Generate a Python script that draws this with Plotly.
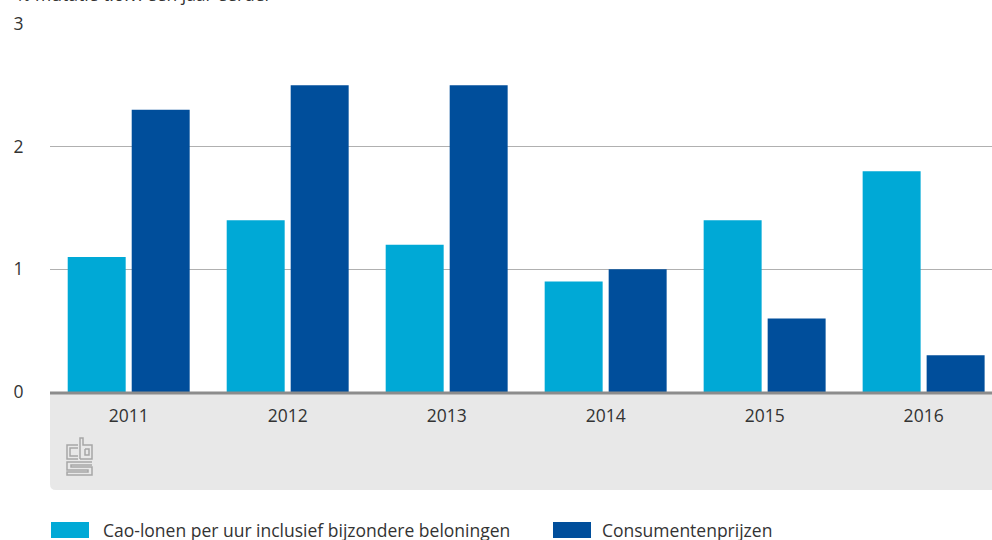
import plotly.graph_objects as go

years = ["2011", "2012", "2013", "2014", "2015", "2016"]
cao_lonen = [1.1, 1.4, 1.2, 0.9, 1.4, 1.8]
consumentenprijzen = [2.3, 2.5, 2.5, 1.0, 0.6, 0.3]
series_names = ["Cao-lonen per uur inclusief bijzondere beloningen", "Consumentenprijzen"]
y_ticks = [0, 1, 2, 3]
y_title = "% mutatie t.o.v. een jaar eerder"

LIGHT = "#00A9D6"
DARK = "#004E9B"
FONT = "Open Sans"

W, H = 992, 540
ML, MR, MT, MB = 50, 0, 24, 148
PH = H - MT - MB


def py(p):
    """pixel y (from top) -> paper y"""
    return (H - MB - p) / PH


def px(p):
    return (p - ML) / (W - ML - MR)


fig = go.Figure()
fig.add_trace(go.Bar(x=years, y=cao_lonen, name=series_names[0], marker_color=LIGHT,
                     marker_line_width=0, showlegend=False))
fig.add_trace(go.Bar(x=years, y=consumentenprijzen, name=series_names[1], marker_color=DARK,
                     marker_line_width=0, showlegend=False))

shapes = []
# grey footer box with rounded bottom-left corner
x0, x1 = px(50), px(992)
y0, y1 = py(392), py(490)
r = 6
shapes.append(dict(type="path", xref="paper", yref="paper",
                   path=(f"M {x0} {y0} L {x1} {y0} L {x1} {y1} L {px(50 + r)} {y1} "
                         f"Q {x0} {y1} {x0} {py(490 - r)} Z"),
                   fillcolor="#E8E8E8", line=dict(width=0), layer="below"))
# baseline
shapes.append(dict(type="line", xref="paper", yref="paper", x0=0, x1=1, y0=py(393), y1=py(393),
                   line=dict(color="#8C8C8C", width=3)))

# cbs logo (approximate outline)
logo_col = "#A6A6A6"
def lp(points):
    s = "M " + " L ".join(f"{px(a)} {py(b)}" for a, b in points)
    return dict(type="path", xref="paper", yref="paper", path=s,
                line=dict(color=logo_col, width=1.5), fillcolor="rgba(0,0,0,0)")
# c
shapes.append(lp([(78, 445), (67, 445), (67, 459), (78, 459)]))
shapes.append(lp([(78, 448), (70, 448), (70, 456), (78, 456)]))
# b
shapes.append(lp([(80, 459), (80, 438), (83, 438), (83, 445), (92, 445), (92, 459), (80, 459)]))
shapes.append(lp([(85, 449), (89, 449), (89, 455), (85, 455), (85, 449)]))
# s
shapes.append(lp([(92, 462), (67, 462), (67, 470), (88, 470), (88, 472), (67, 472), (67, 475), (92, 475),
                  (92, 467), (71, 467), (71, 465), (92, 465)]))

# legend squares
shapes.append(dict(type="rect", xref="paper", yref="paper", x0=px(51), x1=px(89), y0=py(522), y1=py(538),
                   fillcolor=LIGHT, line=dict(width=0)))
shapes.append(dict(type="rect", xref="paper", yref="paper", x0=px(553), x1=px(591), y0=py(522), y1=py(538),
                   fillcolor=DARK, line=dict(width=0)))

annotations = [
    dict(text=series_names[0], xref="paper", yref="paper", x=px(101), y=py(530),
         xanchor="left", yanchor="middle", showarrow=False, font=dict(size=17.5, color="#333333", family=FONT)),
    dict(text=series_names[1], xref="paper", yref="paper", x=px(600), y=py(530),
         xanchor="left", yanchor="middle", showarrow=False, font=dict(size=17.5, color="#333333", family=FONT)),
    dict(text=y_title, xref="paper", yref="paper", x=px(14), y=py(-6),
         xanchor="left", yanchor="middle", showarrow=False, font=dict(size=17.5, color="#333333", family=FONT)),
]

fig.update_layout(
    width=W, height=H,
    margin=dict(l=ML, r=MR, t=MT, b=MB, pad=0),
    paper_bgcolor="white", plot_bgcolor="white",
    barmode="group", bargap=0.195, bargroupgap=0.094,
    font=dict(family=FONT, size=17, color="#333333"),
    shapes=shapes, annotations=annotations,
    xaxis=dict(range=[-0.495, 5.43], showgrid=False, showline=False, zeroline=False, ticks="outside",
               ticklen=8, tickcolor="rgba(0,0,0,0)", tickfont=dict(size=17.5, color="#333333")),
    yaxis=dict(range=[0, 3], tickvals=y_ticks, showgrid=True, gridcolor="#B0B0B0", gridwidth=1,
               zeroline=False, showline=False, ticks="outside", ticklen=22, tickcolor="rgba(0,0,0,0)",
               tickfont=dict(size=17.5, color="#333333")),
)

fig.write_html("out.html", config={"displayModeBar": False},
               post_script="document.body.style.margin='0';document.body.style.overflow='hidden';")
